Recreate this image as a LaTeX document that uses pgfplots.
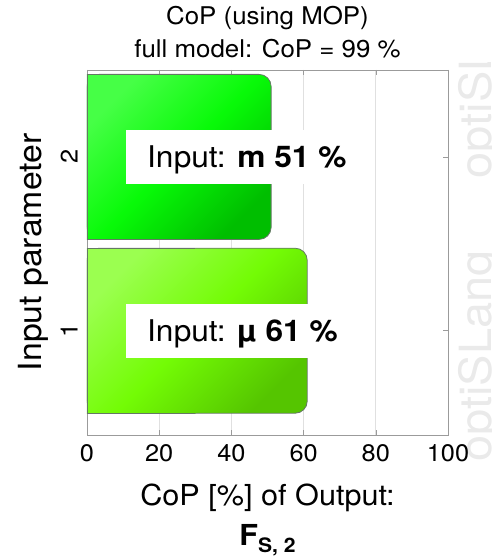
\documentclass[border=0pt]{standalone}
\usepackage{fontspec}
\setmainfont[FakeStretch=1.06]{TeX Gyre Heros}
\usepackage{pgfplots}
\pgfplotsset{compat=1.18}
\definecolor{gridgray}{RGB}{224,224,224}
\definecolor{axgray}{RGB}{155,155,155}
\definecolor{wmgray}{RGB}{234,234,234}
\definecolor{barline}{RGB}{100,120,100}
\definecolor{gA1}{RGB}{70,255,70}
\definecolor{gA2}{RGB}{8,250,8}
\definecolor{gA3}{RGB}{0,190,0}
\definecolor{gB1}{RGB}{155,255,80}
\definecolor{gB2}{RGB}{115,252,5}
\definecolor{gB3}{RGB}{85,197,0}
\begin{document}
\begin{tikzpicture}[x=1bp,y=1bp]
\begin{scope}
\clip (361,-123) rectangle (405,372);
\node[rotate=90, anchor=base west, inner sep=0pt, text=wmgray, font=\fontsize{44.5}{44.5}\selectfont] at (404,-27) {optiSLang\hspace{72bp}optiSLang};
\end{scope}
\begin{axis}[
  at={(0,0)}, anchor=south west,
  scale only axis, width=361bp, height=365bp,
  xmin=0, xmax=100, ymin=0.4, ymax=2.5,
  xtick={0,20,40,60,80,100}, ytick={1,2},
  xmajorgrids, major grid style={gridgray, line width=0.8bp},
  axis line style={axgray, line width=0.8bp},
  tick style={axgray, line width=0.6bp},
  tick align=inside, major tick length=5bp,
  /pgf/number format/assume math mode=true,
  xticklabel style={font=\fontsize{24}{24}\selectfont, anchor=base},
  xticklabel shift=26.5bp,
  yticklabel style={font=\fontsize{24}{24}\selectfont, rotate=90, anchor=base},
  yticklabel shift=9.5bp,
  title={CoP (using MOP)\\full model: CoP = 99 \%},
  title style={at={(axis description cs:0.5,1.0164)}, anchor=south, align=center, inner sep=0pt, font=\fontsize{24.5}{33}\selectfont},
  xlabel={CoP [\%] of Output:\\\textbf{F}\raisebox{-7bp}{\fontsize{20}{20}\selectfont\textbf{S, 2}}},
  xlabel style={at={(axis description cs:0.5,-0.1329)}, anchor=north, align=center, inner sep=0pt, font=\fontsize{29}{40}\selectfont},
  ylabel={Input parameter},
  ylabel style={at={(axis description cs:-0.126,0.5)}, anchor=base, inner sep=0pt, font=\fontsize{32}{32}\selectfont},
]
\addplot[xbar, bar width=165bp, bar shift=0pt, draw=barline, line width=0.8bp, rounded corners=12bp,
  top color=gA1, bottom color=gA3, middle color=gA2, shading angle=45] coordinates {(51,2)};
\addplot[xbar, bar width=165bp, bar shift=0pt, draw=barline, line width=0.8bp, rounded corners=12bp,
  top color=gB1, bottom color=gB3, middle color=gB2, shading angle=45] coordinates {(61,1)};
\begin{scope}
\clip (axis cs:0,0.4) rectangle (axis cs:30,2.5);
\addplot[xbar, bar width=165bp, bar shift=0pt, draw=barline, line width=0.8bp, sharp corners,
  top color=gA1, bottom color=gA3, middle color=gA2, shading angle=45] coordinates {(51,2)};
\addplot[xbar, bar width=165bp, bar shift=0pt, draw=barline, line width=0.8bp, sharp corners,
  top color=gB1, bottom color=gB3, middle color=gB2, shading angle=45] coordinates {(61,1)};
\end{scope}
\node[fill=white, anchor=west, inner xsep=21bp, inner ysep=0pt, text height=21.6bp, text depth=0pt, minimum height=54bp, font=\fontsize{30}{30}\selectfont] at (axis cs:10.8,2) {Input: \textbf{m 51 \%}};
\node[fill=white, anchor=west, inner xsep=21bp, inner ysep=0pt, text height=21.6bp, text depth=0pt, minimum height=54bp, font=\fontsize{30}{30}\selectfont] at (axis cs:10.8,1) {Input: \textbf{µ 61 \%}};
\end{axis}
\pgfresetboundingbox
\useasboundingbox (-87,-123) rectangle (405,435);
\end{tikzpicture}
\end{document}
